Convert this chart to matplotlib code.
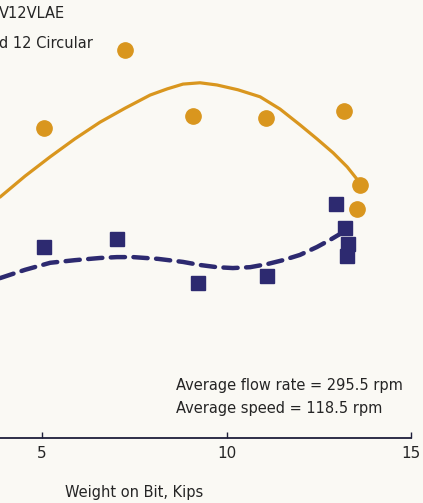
import matplotlib.pyplot as plt

# circles: 12 Circular bit, squares: V12VLAE bit
circ_x = [5.05, 7.25, 9.09, 11.07, 13.18, 13.62, 13.54]
circ_y = [70.8, 88.6, 73.5, 73.1, 74.7, 57.8, 52.3]

sq_x = [5.05, 7.03, 9.23, 11.10, 12.97, 13.21, 13.29, 13.27]
sq_y = [43.6, 45.4, 35.4, 37.0, 53.4, 47.9, 44.3, 41.6]

# trend curves
circ_fit_x = [3.86, 4.54, 5.22, 5.89, 6.57, 7.25, 7.93, 8.39, 8.82, 9.28, 9.74, 10.31, 10.91, 11.45, 11.99, 12.45, 12.89, 13.27, 13.62]
circ_fit_y = [55.0, 59.8, 64.2, 68.3, 72.1, 75.3, 78.3, 79.7, 80.8, 81.1, 80.6, 79.5, 77.9, 75.1, 71.5, 68.3, 65.1, 61.9, 58.2]

sq_fit_x = [3.86, 4.54, 5.22, 5.89, 6.57, 7.03, 7.47, 8.14, 8.82, 9.28, 9.74, 10.17, 10.64, 11.10, 11.53, 11.99, 12.45, 12.80, 13.16]
sq_fit_y = [36.5, 38.4, 40.0, 40.6, 41.1, 41.3, 41.3, 40.9, 40.2, 39.5, 39.0, 38.8, 39.0, 39.7, 40.6, 41.8, 43.6, 45.2, 47.0]

orange = '#d9961e'
navy = '#2d2a70'
bg = '#faf9f4'
txt = '#252525'
fam = ['Liberation Sans Narrow', 'DejaVu Sans']

fig = plt.figure(figsize=(4.23, 5.03), dpi=100, facecolor=bg)
ax = fig.add_axes([0, 65/503, 411/423, 438/503])
ax.set_facecolor(bg)

ax.plot(circ_fit_x, circ_fit_y, color=orange, lw=2.3, solid_capstyle='round')
ax.plot(sq_fit_x, sq_fit_y, color=navy, lw=3.2, linestyle=(0, (3.2, 1.9)), dash_capstyle='round')
ax.plot(circ_x, circ_y, 'o', color=orange, ms=11, mec=orange)
ax.plot(sq_x, sq_y, 's', color=navy, ms=10, mec=navy)

ax.set_xlim(3.86, 15)
ax.set_ylim(0, 100)
ax.set_xticks([5, 10, 15])
ax.set_xticklabels(['5', '10', '15'], family=fam, fontsize=11, color=txt)
ax.tick_params(axis='x', direction='in', length=4, width=1, colors='#1e1e3a', labelcolor=txt, pad=6)
ax.set_yticks([])
for s in ['left', 'top', 'right']:
    ax.spines[s].set_visible(False)
ax.spines['bottom'].set_color('#1e1e3a')
ax.spines['bottom'].set_linewidth(1.3)

# labels of the cropped legend and notes
fig.text(-0.003, 1 - 18/503, 'V12VLAE', family=fam, fontsize=10.5, color=txt, va='baseline')
fig.text(-0.003, 1 - 48/503, 'd 12 Circular', family=fam, fontsize=10.5, color=txt, va='baseline')
fig.text(176/423, 1 - 390/503, 'Average flow rate = 295.5 rpm', family=fam, fontsize=10.5, color=txt, va='baseline')
fig.text(176/423, 1 - 413/503, 'Average speed = 118.5 rpm', family=fam, fontsize=10.5, color=txt, va='baseline')
fig.text(65/423, 1 - 497/503, 'Weight on Bit, Kips', family=fam, fontsize=10.5, color=txt, va='baseline')

fig.savefig('out.png', dpi=100, facecolor=bg)
